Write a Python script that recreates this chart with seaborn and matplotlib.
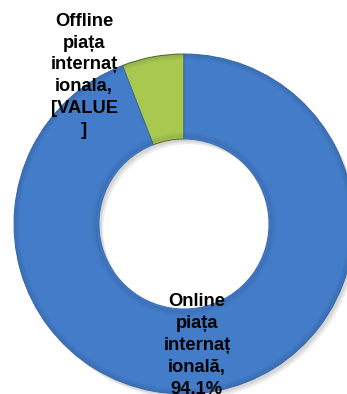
import matplotlib
matplotlib.use("Agg")
import matplotlib.pyplot as plt
import seaborn as sns

# Market share data
categories = ["Offline piața internaționala", "Online piața internațională"]
values = [5.9, 94.1]
labels = ["Offline\npiața\ninternaț\nionala,\n[VALUE\n]",
          "Online\npiața\ninternaț\nională,\n{}%".format(f"{values[1]:.1f}".replace(".", ","))]
colors = ["#A8C850", "#437CC8"]
edge_colors = ["#4E6420", "#3A6BB0"]

sns.set_theme(style="white")
plt.rcParams["font.family"] = ["Liberation Sans", "DejaVu Sans"]

fig = plt.figure(figsize=(3.47, 3.94), dpi=100)
ax = fig.add_axes([0, 0, 1, 1])

ring_width = 0.5

# soft drop shadow under the ring
for dx, dy, a in [(0.025, -0.03, 0.25), (0.015, -0.018, 0.35)]:
    ax.pie([sum(values)], radius=1.0, center=(dx, dy), startangle=90,
           colors=["#B0B0B0"], wedgeprops=dict(width=ring_width, linewidth=0, alpha=a))

wedges, _ = ax.pie(values, radius=1.0, startangle=90, counterclock=True,
                   colors=colors,
                   wedgeprops=dict(width=ring_width, linewidth=0.7))
for w, ec in zip(wedges, edge_colors):
    w.set_edgecolor(ec)

# shaded rims for a bevelled look
for r0, a in [(1.0, 0.10), (0.99, 0.07), (0.98, 0.04),
              (0.52, 0.10), (0.53, 0.06), (0.54, 0.03)]:
    ax.pie(values, radius=r0, startangle=90, colors=["#10203A", "#10203A"],
           wedgeprops=dict(width=0.012, linewidth=0, alpha=a))

label_pos = [(-0.588, 0.872), (0.076, -0.715)]
for text, (x, y) in zip(labels, label_pos):
    ax.text(x, y, text, ha="center", va="center", fontsize=13.2, fontweight="bold",
            color="black", linespacing=1.37)

ax.set_xlim(-184 / 170, (347 - 184) / 170)
ax.set_ylim(-(394 - 224) / 170, 224 / 170)
ax.set_aspect("auto")
ax.axis("off")

fig.savefig("out.png", dpi=100)
